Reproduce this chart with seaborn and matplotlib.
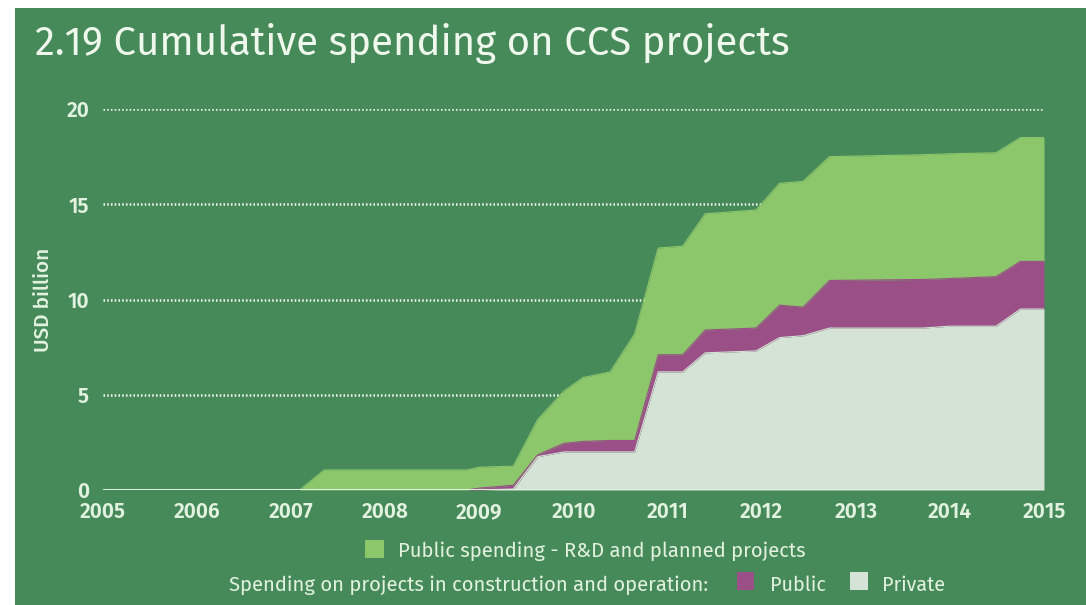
import numpy as np
import pandas as pd
import matplotlib
matplotlib.use("Agg")
import matplotlib.pyplot as plt
import matplotlib.patches as mpatches
import seaborn as sns

# Cumulative CCS spending, USD billion (stack layers)
years = [2005.0, 2007.09, 2007.35, 2008.87, 2009.0, 2009.36, 2009.62, 2009.90,
         2010.10, 2010.39, 2010.65, 2010.90, 2011.16, 2011.40, 2011.94, 2012.19,
         2012.44, 2012.72, 2013.71, 2014.0, 2014.49, 2014.75, 2015.0]
private = [0, 0, 0, 0, 0, 0.05, 1.75, 2.0, 2.0, 2.0, 2.0, 6.2, 6.2, 7.2, 7.3,
           8.0, 8.1, 8.5, 8.5, 8.6, 8.6, 9.5, 9.5]
public_construction = [0, 0, 0, 0, 0.1, 0.2, 0.1, 0.45, 0.55, 0.6, 0.6, 0.9,
                       0.9, 1.2, 1.2, 1.7, 1.5, 2.5, 2.55, 2.5, 2.6, 2.5, 2.5]
public_rd_planned = [0, 0, 1.05, 1.05, 1.1, 1.0, 1.85, 2.75, 3.35, 3.6, 5.6,
                     5.6, 5.7, 6.1, 6.2, 6.4, 6.6, 6.5, 6.55, 6.55, 6.5, 6.5, 6.5]

x_ticks = [2005, 2006, 2007, 2008, 2009, 2010, 2011, 2012, 2013, 2014, 2015]
y_ticks = [0, 5, 10, 15, 20]

title = "2.19 Cumulative spending on CCS projects"
y_label = "USD billion"
legend_rd = "Public spending - R&D and planned projects"
legend_lead = "Spending on projects in construction and operation:"
legend_public = "Public"
legend_private = "Private"

BG = "#478a5a"
C_RD = "#8cc76b"
C_PUB = "#9a4f86"
C_PRIV = "#d4e3d6"
TXT = "#e2f2e0"

sns.set_theme(style="white")
FONT = "Fira Sans"
plt.rcParams["font.family"] = [FONT, "DejaVu Sans"]

W, H = 1086, 605
fig = plt.figure(figsize=(W / 100, H / 100), dpi=100, facecolor="white")


def fx(x):
    return x / W


def fy(y):
    return 1 - y / H


# green panel with a thin white margin at the top and left
fig.patches.append(mpatches.Rectangle((fx(15), 0), 1 - fx(15), fy(8),
                                      transform=fig.transFigure,
                                      facecolor=BG, edgecolor="none", zorder=-10))

ax = fig.add_axes([fx(103), fy(490), fx(1044) - fx(103), fy(109) - fy(490)])
ax.patch.set_alpha(0)
for s in ax.spines.values():
    s.set_visible(False)

ax.set_xlim(2005, 2015)
ax.set_ylim(0, 20)

# dotted horizontal guides
for yv in y_ticks[1:]:
    ax.axhline(yv, color="#f4fbf2", lw=1.8, ls=(0, (0.6, 0.9)), zorder=0.5)

ax.stackplot(years, private, public_construction, public_rd_planned,
             colors=[C_PRIV, C_PUB, C_RD], linewidth=0, zorder=2)

df = pd.DataFrame({"year": years,
                   "priv_top": np.array(private),
                   "pub_top": np.array(private) + np.array(public_construction)})
df["total"] = df["pub_top"] + np.array(public_rd_planned)
sns.lineplot(data=df, x="year", y="total", color=C_RD, lw=0.8, ax=ax, zorder=2.1)
sns.lineplot(data=df, x="year", y="pub_top", color=C_PUB, lw=0.8, ax=ax, zorder=2.1)
sns.lineplot(data=df, x="year", y="priv_top", color=C_PRIV, lw=0.8, ax=ax, zorder=2.1)

ax.axhline(0, color="#dcefdc", lw=2.2, zorder=3)

ax.set_xticks(x_ticks)
ax.set_xticklabels([str(t) for t in x_ticks])
ax.set_yticks(y_ticks)
ax.set_yticklabels([str(t) for t in y_ticks])
ax.tick_params(axis="both", length=0, labelsize=15, labelcolor=TXT)
ax.tick_params(axis="y", pad=10)
ax.tick_params(axis="x", pad=8)
for lab in ax.get_xticklabels() + ax.get_yticklabels():
    lab.set_fontweight("semibold")
ax.set_xlabel("")
ax.set_ylabel("")

renderer = fig.canvas.get_renderer()


def fitted_text(x, y, s, target_w, base=14, rotation=0, **kw):
    t = fig.text(fx(x), fy(y), s, fontsize=base, **kw)
    w = t.get_window_extent(renderer).width
    t.set_fontsize(base * target_w / w)
    t.set_rotation(rotation)
    return t


fitted_text(35, 55, title, 755, base=30, color="#eef8ec", va="baseline",
            ha="left", fontweight="normal")

fitted_text(43, 300, y_label, 104, base=13, rotation=90, ha="center",
            va="center", color=TXT, fontweight="medium")

# legend
fig.patches.append(mpatches.Rectangle((fx(365), fy(558)), fx(19), 18 / H,
                                      transform=fig.transFigure,
                                      facecolor=C_RD, edgecolor="none"))
fitted_text(398, 557, legend_rd, 409, color=TXT, va="baseline", ha="left",
            fontweight="normal")
fitted_text(229, 591, legend_lead, 481, color=TXT, va="baseline", ha="left",
            fontweight="normal")
fig.patches.append(mpatches.Rectangle((fx(737), fy(590)), fx(17), 18 / H,
                                      transform=fig.transFigure,
                                      facecolor=C_PUB, edgecolor="none"))
fitted_text(770, 591, legend_public, 56, color=TXT, va="baseline", ha="left",
            fontweight="normal")
fig.patches.append(mpatches.Rectangle((fx(850), fy(590)), fx(18), 18 / H,
                                      transform=fig.transFigure,
                                      facecolor=C_PRIV, edgecolor="none"))
fitted_text(882, 591, legend_private, 63, color=TXT, va="baseline", ha="left",
            fontweight="normal")

fig.savefig("out.png", dpi=100, facecolor=fig.get_facecolor())
